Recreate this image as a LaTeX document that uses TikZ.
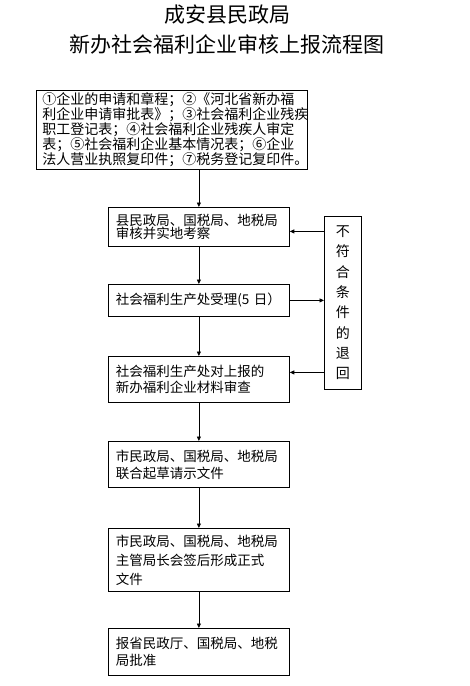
\documentclass[tikz,border=0pt]{standalone}
\usepackage{fontspec}
\setmainfont{Noto Sans CJK SC}
\usetikzlibrary{arrows.meta}
\begin{document}
\begin{tikzpicture}[x=1pt, y=-1pt,
  box/.style={draw, line width=0.8pt, anchor=north west, inner xsep=7.5pt, inner ysep=2pt,
    text width=166pt, align=left},
  arr/.style={-{Triangle[length=4.5pt,width=4pt]}, line width=0.8pt}]
  \useasboundingbox (0,0) rectangle (469,686);
  % title
  \node (t1) [font=\fontsize{21pt}{21pt}\selectfont] at (227,15) {成安县民政局};
  \node (t2) [font=\fontsize{21pt}{21pt}\selectfont] at (227,44) {新办社会福利企业审核上报流程图};
  % steps
  \node (b1) [box, text width=259pt, inner xsep=6pt, minimum height=78pt,
    font=\fontsize{14pt}{13.7pt}\selectfont] at (36,90)
    {①企业的申请和章程；②《河北省新办福\\利企业申请审批表》；③社会福利企业残疾\\职工登记表；④社会福利企业残疾人审定\\表；⑤社会福利企业基本情况表；⑥企业\\法人营业执照复印件；⑦税务登记复印件。};
  \node (b2) [box, minimum height=39pt, font=\fontsize{13.5pt}{13.5pt}\selectfont] at (108,207)
    {县民政局、国税局、地税局\\审核并实地考察};
  \node (b3) [box, minimum height=32pt, font=\fontsize{13.5pt}{15pt}\selectfont] at (108,284)
    {社会福利生产处受理(5 日）};
  \node (b4) [box, minimum height=46pt, font=\fontsize{13.5pt}{16pt}\selectfont] at (108,356)
    {社会福利生产处对上报的\\新办福利企业材料审查};
  \node (b5) [box, minimum height=46pt, font=\fontsize{13.5pt}{17pt}\selectfont] at (108,441)
    {市民政局、国税局、地税局\\联合起草请示文件};
  \node (b6) [box, minimum height=63pt, font=\fontsize{13.5pt}{19pt}\selectfont] at (108,528)
    {市民政局、国税局、地税局\\主管局长会签后形成正式\\文件};
  \node (b7) [box, minimum height=47pt, font=\fontsize{13.5pt}{17pt}\selectfont] at (108,628)
    {报省民政厅、国税局、地税\\局批准};
  \node (ret) [draw, line width=0.8pt, anchor=north west, minimum width=37pt, minimum height=173pt,
    inner sep=0pt, align=center, font=\fontsize{14pt}{20.3pt}\selectfont] at (324,216)
    {不\\符\\合\\条\\件\\的\\退\\回};
  % arrows
  \draw[arr] (b2.north |- b1.south) -- (b2.north);
  \draw[arr] (b2.south) -- (b3.north);
  \draw[arr] (b3.south) -- (b4.north);
  \draw[arr] (b4.south) -- (b5.north);
  \draw[arr] (b5.south) -- (b6.north);
  \draw[arr] (b6.south) -- (b7.north);
  \coordinate (r2) at ([yshift=-4.5pt]b2.east);
  \coordinate (r4) at ([yshift=7pt]b4.east);
  \draw[arr] (ret.west |- r2) -- (r2);
  \draw[arr] (b3.east) -- (ret.west |- b3.east);
  \draw[arr] (ret.west |- r4) -- (r4);
\end{tikzpicture}
\end{document}
